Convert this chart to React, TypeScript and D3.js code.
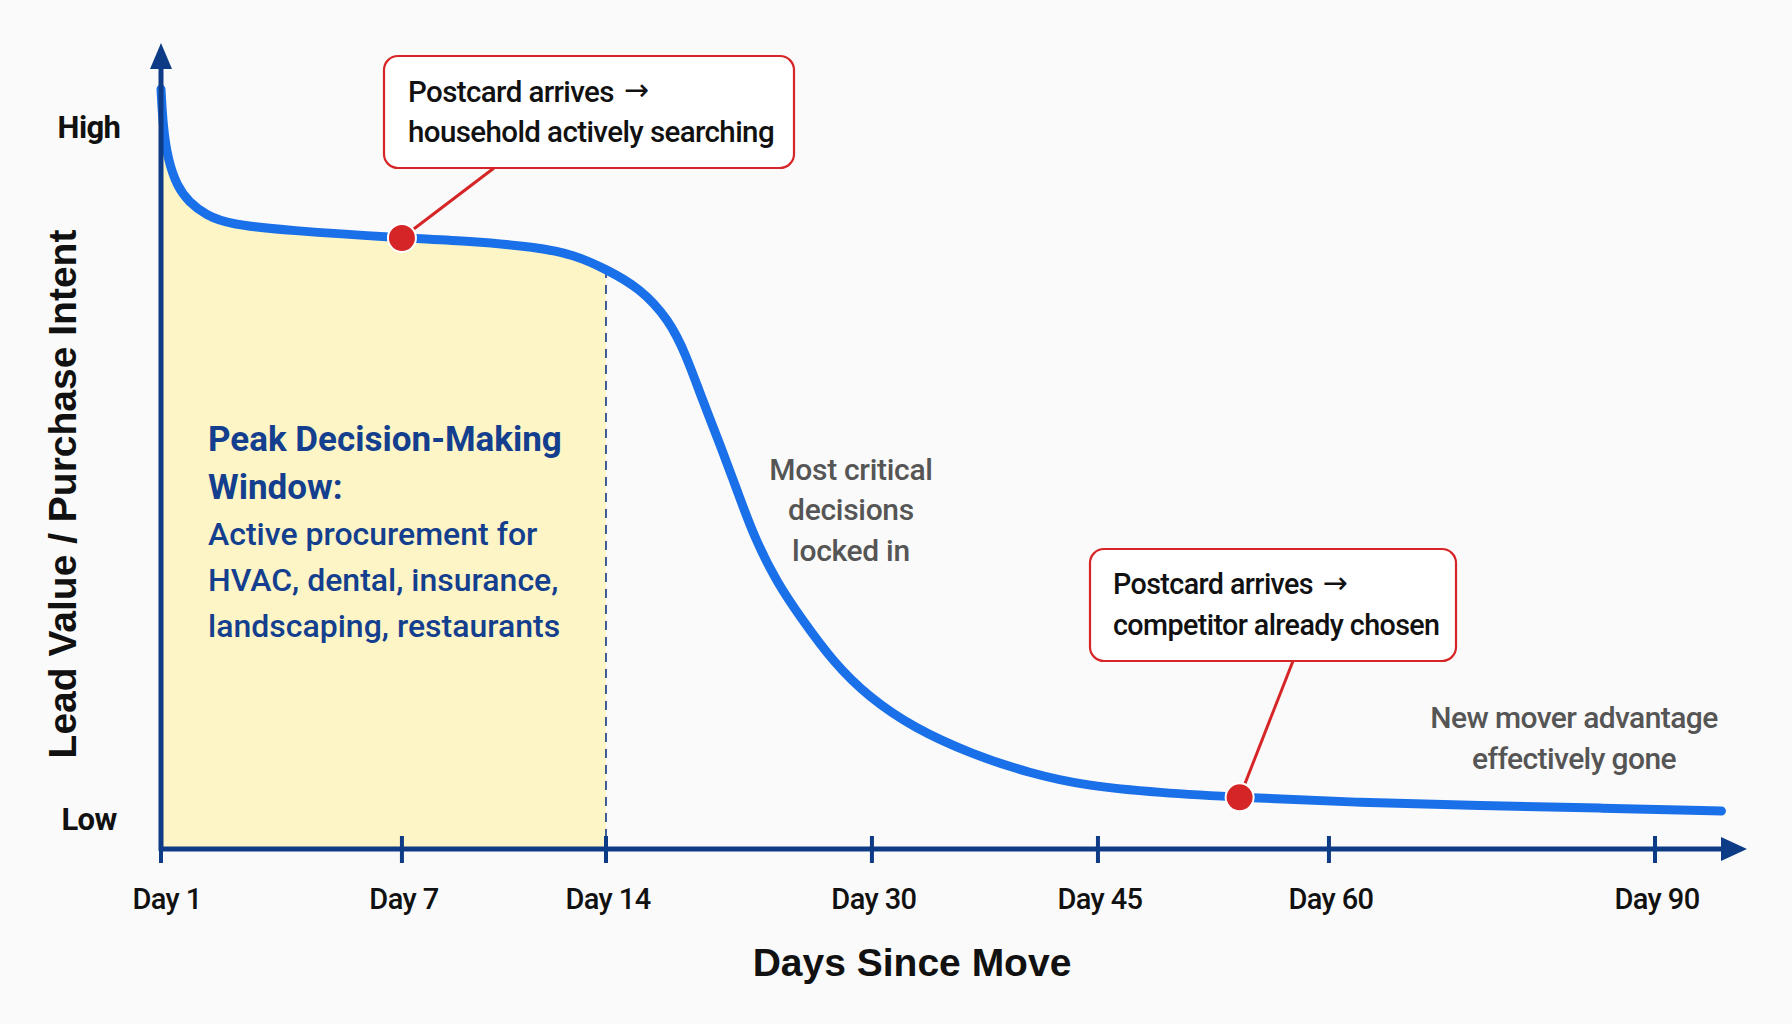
import React from "react";
import * as d3 from "d3";

// ---------- DATA ----------
const tickDays = [1, 7, 14, 30, 45, 60, 90];
const tickLabels = ["Day 1", "Day 7", "Day 14", "Day 30", "Day 45", "Day 60", "Day 90"];

// Lead value curve (day since move, relative value 0..100)
const curveDays = [1, 1.05, 1.17, 1.4, 1.7, 2.12, 2.69, 4.11, 7, 9.33, 11.6, 12.9, 14, 16.05, 17.8, 18.8, 19.8, 20.9, 21.9, 22.9, 24.3, 25.7, 27.7, 29.8, 32.8, 36.6, 40.4, 44.2, 49.0, 54.2, 62.9, 73.9, 84.9, 96.1];
const curveValues = [100, 95.1, 90.7, 87.2, 85.1, 83.4, 82.2, 81.4, 80.4, 80.0, 79.2, 78.2, 76.3, 73.8, 69.6, 65.1, 59.1, 53.0, 47.1, 41.1, 35.0, 30.5, 24.5, 20.0, 15.9, 12.5, 10.0, 8.3, 7.4, 6.8, 6.1, 5.7, 5.4, 5.0];

const yTickLabels = ["High", "Low"];
const yTickValues = [95, 4];

const windowEndDay = 14;
const markerDays = [7, 54.2];
const markerValues = [80.4, 6.8];

const callout1Lines = ["Postcard arrives ", "household actively searching"];
const callout2Lines = ["Postcard arrives ", "competitor already chosen"];
const windowTitleLines = ["Peak Decision-Making", "Window:"];
const windowBodyLines = ["Active procurement for", "HVAC, dental, insurance,", "landscaping, restaurants"];
const criticalLines = ["Most critical", "decisions", "locked in"];
const goneLines = ["New mover advantage", "effectively gone"];
const yTitle = "Lead Value / Purchase Intent";
const xTitle = "Days Since Move";
const ARROW = "\u2192";

// ---------- LAYOUT ----------
const W = 1792;
const H = 1024;
const M = { left: 161, right: 1764, top: 89, bottom: 849 };
const xDomain = [1, 7, 14, 30, 45, 60, 90, 100];
const xFrac = [0, 0.1503, 0.2776, 0.4435, 0.5845, 0.7286, 0.932, 1];

const NAVY = "#0e3b85";
const BLUE = "#1a70e8";
const RED = "#d62526";
const YELLOW = "#fdf5c6";
const TEXT_NAVY = "#143f8e";
const GREY = "#555555";
const FONT = "Roboto, 'Liberation Sans', Arial, sans-serif";
const ARIAL = "'Liberation Sans', Arial, sans-serif";

export default function App() {
  const x = d3
    .scaleLinear()
    .domain(xDomain)
    .range(xFrac.map((f) => M.left + f * (M.right - M.left)));
  const y = d3.scaleLinear().domain([0, 100]).range([M.bottom, M.top]);

  const pts: [number, number][] = curveDays.map((d, i) => [d, curveValues[i]]);
  const line = d3
    .line<[number, number]>()
    .x((d) => x(d[0]))
    .y((d) => y(d[1]))
    .curve(d3.curveBasis);
  const area = d3
    .area<[number, number]>()
    .x((d) => x(d[0]))
    .y0(y(0))
    .y1((d) => y(d[1]))
    .curve(d3.curveBasis);
  const windowPts = pts.filter((p) => p[0] <= windowEndDay);
  const windowEndValue = curveValues[curveDays.indexOf(windowEndDay)];

  const axisEndX = M.right - 17;
  const axisTopY = 43;

  const box1 = { x: 384, y: 56, w: 410, h: 112 };
  const box2 = { x: 1090, y: 549, w: 366, h: 112 };
  const anchor1 = { x: 494, y: box1.y + box1.h };
  const anchor2 = { x: 1293, y: box2.y + box2.h };

  const arrowSpan = (
    <tspan fontFamily="'DejaVu Sans', sans-serif" fontWeight={400} fontSize={30} dx={3} dy="-0.04em">
      {ARROW}
    </tspan>
  );

  return (
    <div style={{ position: "fixed", left: 0, top: 0, width: W, height: H }}>
      <svg width={W} height={H} viewBox={`0 0 ${W} ${H}`} style={{ display: "block", fontFamily: FONT }}>
        <rect x={0} y={0} width={W} height={H} fill="#fafafa" />

        {/* peak window fill */}
        <path d={area(windowPts) || ""} fill={YELLOW} />
        <line
          x1={x(windowEndDay)}
          x2={x(windowEndDay)}
          y1={y(windowEndValue)}
          y2={y(0)}
          stroke={NAVY}
          strokeWidth={1.6}
          strokeDasharray="9 7"
        />

        {/* curve */}
        <path d={line(pts) || ""} fill="none" stroke={BLUE} strokeWidth={9} strokeLinecap="round" />

        {/* axes */}
        <line x1={M.left} x2={M.left} y1={M.bottom + 2} y2={axisTopY + 20} stroke={NAVY} strokeWidth={5} />
        <path
          d={`M${M.left},${axisTopY} L${M.left - 11},${axisTopY + 26} L${M.left + 11},${axisTopY + 26} Z`}
          fill={NAVY}
        />
        <line x1={M.left - 2} x2={axisEndX - 20} y1={M.bottom} y2={M.bottom} stroke={NAVY} strokeWidth={5} />
        <path
          d={`M${axisEndX},${M.bottom} L${axisEndX - 26},${M.bottom - 12} L${axisEndX - 26},${M.bottom + 12} Z`}
          fill={NAVY}
        />
        {tickDays.map((d, i) => (
          <g key={d}>
            <line x1={x(d)} x2={x(d)} y1={M.bottom - 13} y2={M.bottom + 14} stroke={NAVY} strokeWidth={4} />
            <text
              x={x(d) + (i === 0 ? 6 : 2)}
              y={M.bottom + 60}
              textAnchor="middle"
              fontSize={29}
              fontWeight={500}
              fill="#111"
              letterSpacing={-0.6}
            >
              {tickLabels[i]}
            </text>
          </g>
        ))}
        {yTickLabels.map((t, i) => (
          <text
            key={t}
            x={89}
            y={y(yTickValues[i])}
            dy="0.36em"
            textAnchor="middle"
            fontSize={31}
            fontWeight={700}
            fill="#111"
            letterSpacing={-0.6}
          >
            {t}
          </text>
        ))}
        <text
          transform={`translate(62,${494}) rotate(-90)`}
          textAnchor="middle"
          dy="0.36em"
          fontSize={39}
          fontWeight={700}
          fill="#111"
          fontFamily={ARIAL}
        >
          {yTitle}
        </text>
        <text x={912} y={962} dy="0.36em" textAnchor="middle" fontSize={39} fontWeight={700} fill="#111" fontFamily={ARIAL}>
          {xTitle}
        </text>

        {/* window text */}
        {windowTitleLines.map((t, i) => (
          <text key={t} x={208} y={438 + i * 48} dy="0.36em" fontSize={35} fontWeight={700} fill={TEXT_NAVY}>
            {t}
          </text>
        ))}
        {windowBodyLines.map((t, i) => (
          <text key={t} x={208} y={533 + i * 46} dy="0.36em" fontSize={32} fontWeight={500} fill={TEXT_NAVY}>
            {t}
          </text>
        ))}

        {/* grey annotations */}
        {criticalLines.map((t, i) => (
          <text key={t} x={851} y={469 + i * 40.5} dy="0.36em" textAnchor="middle" fontSize={30} fontWeight={500} fill={GREY} letterSpacing={-0.3}>
            {t}
          </text>
        ))}
        {goneLines.map((t, i) => (
          <text key={t} x={1574} y={717 + i * 41} dy="0.36em" textAnchor="middle" fontSize={30} fontWeight={500} fill={GREY} letterSpacing={-0.6}>
            {t}
          </text>
        ))}

        {/* callouts */}
        <line x1={x(markerDays[0])} y1={y(markerValues[0])} x2={anchor1.x} y2={anchor1.y} stroke={RED} strokeWidth={3} />
        <line x1={x(markerDays[1])} y1={y(markerValues[1])} x2={anchor2.x} y2={anchor2.y} stroke={RED} strokeWidth={3} />
        <rect x={box1.x} y={box1.y} width={box1.w} height={box1.h} rx={14} fill="#fff" stroke={RED} strokeWidth={2.2} />
        <rect x={box2.x} y={box2.y} width={box2.w} height={box2.h} rx={14} fill="#fff" stroke={RED} strokeWidth={2.2} />
        {callout1Lines.map((t, i) => (
          <text key={t} x={box1.x + 24} y={box1.y + 35 + i * 40} dy="0.36em" fontSize={29.5} fontWeight={500} fill="#111" letterSpacing={-0.6}>
            {t}
            {i === 0 ? arrowSpan : null}
          </text>
        ))}
        {callout2Lines.map((t, i) => (
          <text key={t} x={box2.x + 23} y={box2.y + 35 + i * 41} dy="0.36em" fontSize={28.7} fontWeight={500} fill="#111" letterSpacing={-0.6}>
            {t}
            {i === 0 ? arrowSpan : null}
          </text>
        ))}

        {/* markers */}
        {markerDays.map((d, i) => (
          <circle key={d} cx={x(d)} cy={y(markerValues[i])} r={14} fill={RED} stroke="#fff" strokeWidth={2} />
        ))}
      </svg>
    </div>
  );
}
